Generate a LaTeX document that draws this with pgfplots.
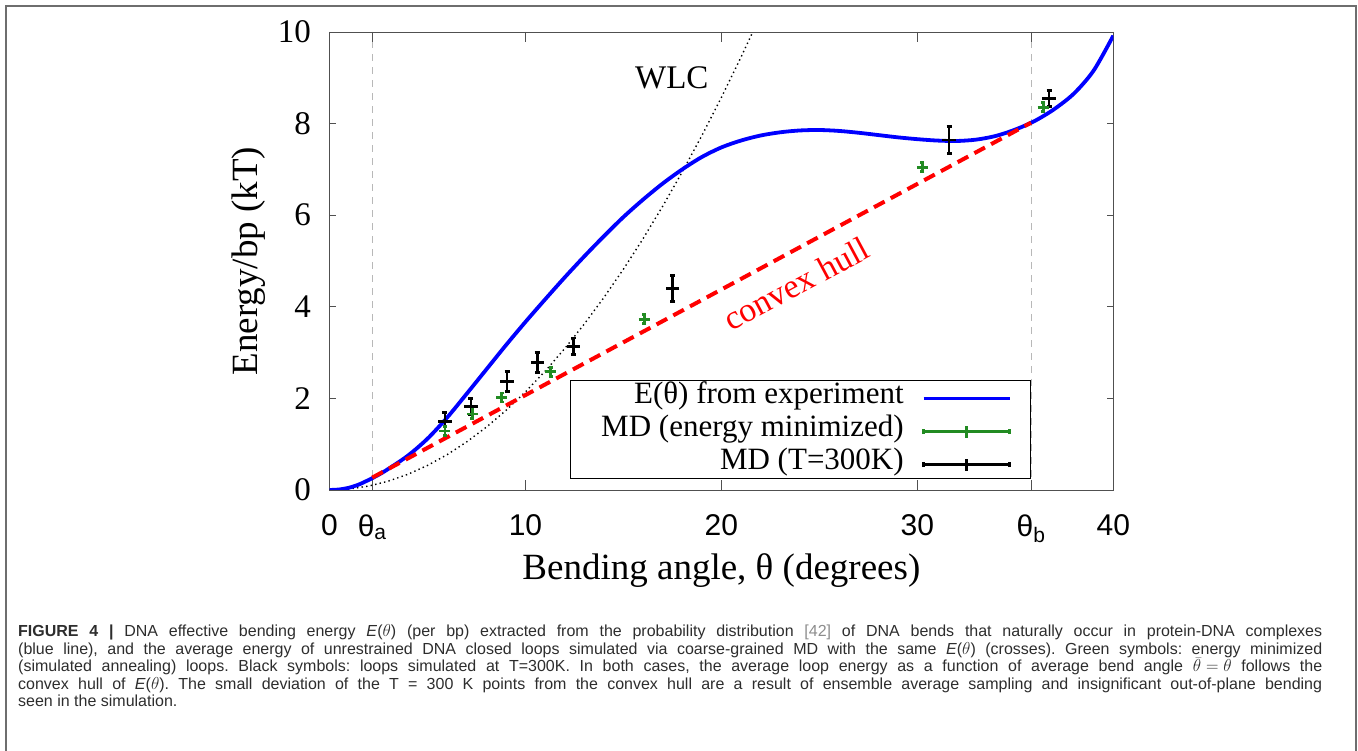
\documentclass[border=0pt]{standalone}
\usepackage{fontspec}
\setmainfont{Liberation Serif}
\setsansfont{Liberation Sans}
\newfontfamily\capfont{Liberation Sans}
\usepackage{pgfplots}
\pgfplotsset{compat=1.18}
\definecolor{fgreen}{RGB}{34,139,34}
\definecolor{framegray}{RGB}{110,110,110}
\definecolor{axisgray}{RGB}{80,80,80}
\definecolor{captext}{RGB}{45,45,45}
\definecolor{linkgray}{RGB}{140,140,140}

\pgfplotstableread{
x y
0 0
0.5 0.012
1 0.05
1.5 0.12
2 0.22
2.5 0.33
3 0.46
4 0.75
5 1.12
6 1.58
7 2.10
8 2.63
9 3.16
10 3.67
11 4.16
12 4.64
13 5.10
14 5.54
15 5.96
16 6.34
17 6.69
18 7.00
19 7.27
20 7.48
21 7.63
22 7.74
23 7.81
24 7.85
25 7.86
26 7.84
27 7.80
28 7.75
29 7.70
30 7.66
31 7.63
32 7.62
33 7.65
34 7.73
35 7.87
36 8.06
37 8.32
38 8.66
39 9.16
40 9.92
}\expcurve

\pgfplotstableread{
x y
0 0
1 0.021
2 0.086
3 0.193
4 0.343
5 0.536
6 0.771
7 1.05
8 1.371
9 1.736
10 2.143
11 2.593
12 3.086
13 3.622
14 4.20
15 4.822
16 5.486
17 6.193
18 6.943
19 7.736
20 8.572
21 9.45
21.6 10.0
}\wlc

\pgfplotstableread{
x y
2.18 0.27
35.8 8.02
}\hull

\pgfplotstableread{
x y e
5.89 1.29 0.10
7.29 1.66 0.10
8.78 2.02 0.10
11.28 2.58 0.10
16.06 3.73 0.10
30.26 7.05 0.10
36.42 8.36 0.10
}\mdmin

\pgfplotstableread{
x y e
5.89 1.49 0.20
7.22 1.82 0.17
9.06 2.37 0.22
10.60 2.78 0.22
12.44 3.14 0.18
17.51 4.40 0.29
31.62 7.64 0.29
36.72 8.55 0.18
}\mdtemp

\begin{document}
\begin{tikzpicture}[x=1pt,y=1pt]
\useasboundingbox (0,0) rectangle (1358,750);
\draw[framegray, line width=1.5pt] (6,-2) rectangle (1356,744);
\begin{axis}[
  at={(329.5pt,260pt)}, anchor=south west,
  scale only axis, width=783.8pt, height=458pt,
  xmin=0, xmax=40, ymin=0, ymax=10,
  axis line style={axisgray, line width=0.9pt},
  xtick={0,10,20,30,40},
  xticklabels={0,10,20,30,40},
  ytick={0,2,4,6,8,10},
  /pgf/number format/assume math mode=true,
  xtick style={axisgray, line width=0.9pt, /pgfplots/major tick length=10pt},
  ytick style={axisgray, line width=0.9pt, /pgfplots/major tick length=6pt},
  xticklabel style={font=\sffamily\fontsize{30}{30}\selectfont, yshift=-21pt},
  yticklabel style={font=\fontsize{33}{33}\selectfont, xshift=-15pt},
  extra x ticks={2.18,35.8},
  extra x tick labels={θ\textsubscript{a},θ\textsubscript{b}},
  extra x tick style={grid=major, /pgfplots/major tick length=0pt,
     major grid style={black!28, line width=1pt, dash pattern=on 7pt off 6pt}},
  xlabel={Bending angle, θ (degrees)},
  ylabel={Energy/bp (kT)},
  label style={font=\fontsize{37}{37}\selectfont},
  xlabel style={at={(axis description cs:0.5,-0.175)}, anchor=center},
  ylabel style={at={(axis description cs:-0.1027,0.5)}, anchor=center},
  legend cell align=right,
  legend plot pos=right,
  legend style={
    at={(0.895,0.024)}, anchor=south east,
    draw=black, line width=1pt, fill=white,
    inner xsep=19pt, inner ysep=1pt,
    font=\fontsize{31}{31}\selectfont,
    row sep=3pt,
    nodes={inner sep=0pt, text height=22pt, text depth=8pt},
  },
]
\addplot[black, line width=1.4pt, dash pattern=on 1.4pt off 3.2pt, forget plot] table[x=x,y=y] {\wlc};
\addplot[blue, line width=3.8pt, smooth,
  legend image code/.code={\path (-18pt,0pt) (86pt,0pt); \draw[blue, line width=3.5pt] (0pt,-2pt) -- (86pt,-2pt);}]
  table[x=x,y=y] {\expcurve};
\addlegendentry{E(θ) from experiment}
\addplot[red, line width=4pt, dash pattern=on 12pt off 7pt, forget plot] table[x=x,y=y] {\hull};
\addplot[fgreen, line width=2.8pt, only marks, mark=+, mark size=5.5pt,
  error bars/.cd, y dir=both, y explicit,
  error bar style={line width=2.8pt},
  error mark options={rotate=90, mark size=2pt, line width=2.8pt},
  /pgfplots/legend image code/.code={\path (-18pt,0pt) (86pt,0pt);
     \draw[fgreen, line width=2.5pt] (0pt,-2pt) -- (86pt,-2pt);
     \draw[fgreen, line width=2.5pt] (0pt,-4.5pt) -- (0pt,0.5pt);
     \draw[fgreen, line width=2.5pt] (86pt,-4.5pt) -- (86pt,0.5pt);
     \draw[fgreen, line width=2.5pt] (43pt,-8pt) -- (43pt,4pt);}]
  table[x=x,y=y,y error=e] {\mdmin};
\addlegendentry{\hspace*{12pt}MD (energy minimized)}
\addplot[black, line width=2.8pt, only marks, mark=-, mark size=6.7pt,
  error bars/.cd, y dir=both, y explicit,
  error bar style={line width=2.8pt},
  error mark options={rotate=90, mark size=2.5pt, line width=2.8pt},
  /pgfplots/legend image code/.code={\path (-18pt,0pt) (86pt,0pt);
     \draw[black, line width=2.5pt] (0pt,-2pt) -- (86pt,-2pt);
     \draw[black, line width=2.5pt] (0pt,-4.5pt) -- (0pt,0.5pt);
     \draw[black, line width=2.5pt] (86pt,-4.5pt) -- (86pt,0.5pt);
     \draw[black, line width=2.5pt] (43pt,-8pt) -- (43pt,4pt);}]
  table[x=x,y=y,y error=e] {\mdtemp};
\addlegendentry{MD (T=300K)}
\node[font=\fontsize{33}{33}\selectfont, anchor=center] at (axis cs:17.47,9.0) {WLC};
\node[font=\fontsize{34}{34}\selectfont, text=red, rotate=28.2, anchor=center] at (axis cs:23.8,4.5) {convex hull};
\end{axis}
\begin{scope}[color=captext]
\capfont\fontsize{16}{17.5}\selectfont\frenchspacing
\node[anchor=base west, inner sep=0pt] at (18,113) {\makebox[1304pt][s]{\textbf{FIGURE 4 |} DNA effective bending energy \textit{E}(\mbox{$\theta$}) (per bp) extracted from the probability distribution {\color{linkgray}[42]} of DNA bends that naturally occur in protein-DNA complexes}};
\node[anchor=base west, inner sep=0pt] at (18,95.5) {\makebox[1304pt][s]{(blue line), and the average energy of unrestrained DNA closed loops simulated via coarse-grained MD with the same \textit{E}(\mbox{$\theta$}) (crosses). Green symbols: energy minimized}};
\node[anchor=base west, inner sep=0pt] at (18,78) {\makebox[1304pt][s]{(simulated annealing) loops. Black symbols: loops simulated at T=300K. In both cases, the average loop energy as a function of average bend angle \mbox{$\bar{\theta}=\theta$} follows the}};
\node[anchor=base west, inner sep=0pt] at (18,60.5) {\makebox[1304pt][s]{convex hull of \textit{E}(\mbox{$\theta$}). The small deviation of the T = 300 K points from the convex hull are a result of ensemble average sampling and insignificant out-of-plane bending}};
\node[anchor=base west, inner sep=0pt] at (18,43) {seen in the simulation.};
\end{scope}
\end{tikzpicture}
\end{document}
